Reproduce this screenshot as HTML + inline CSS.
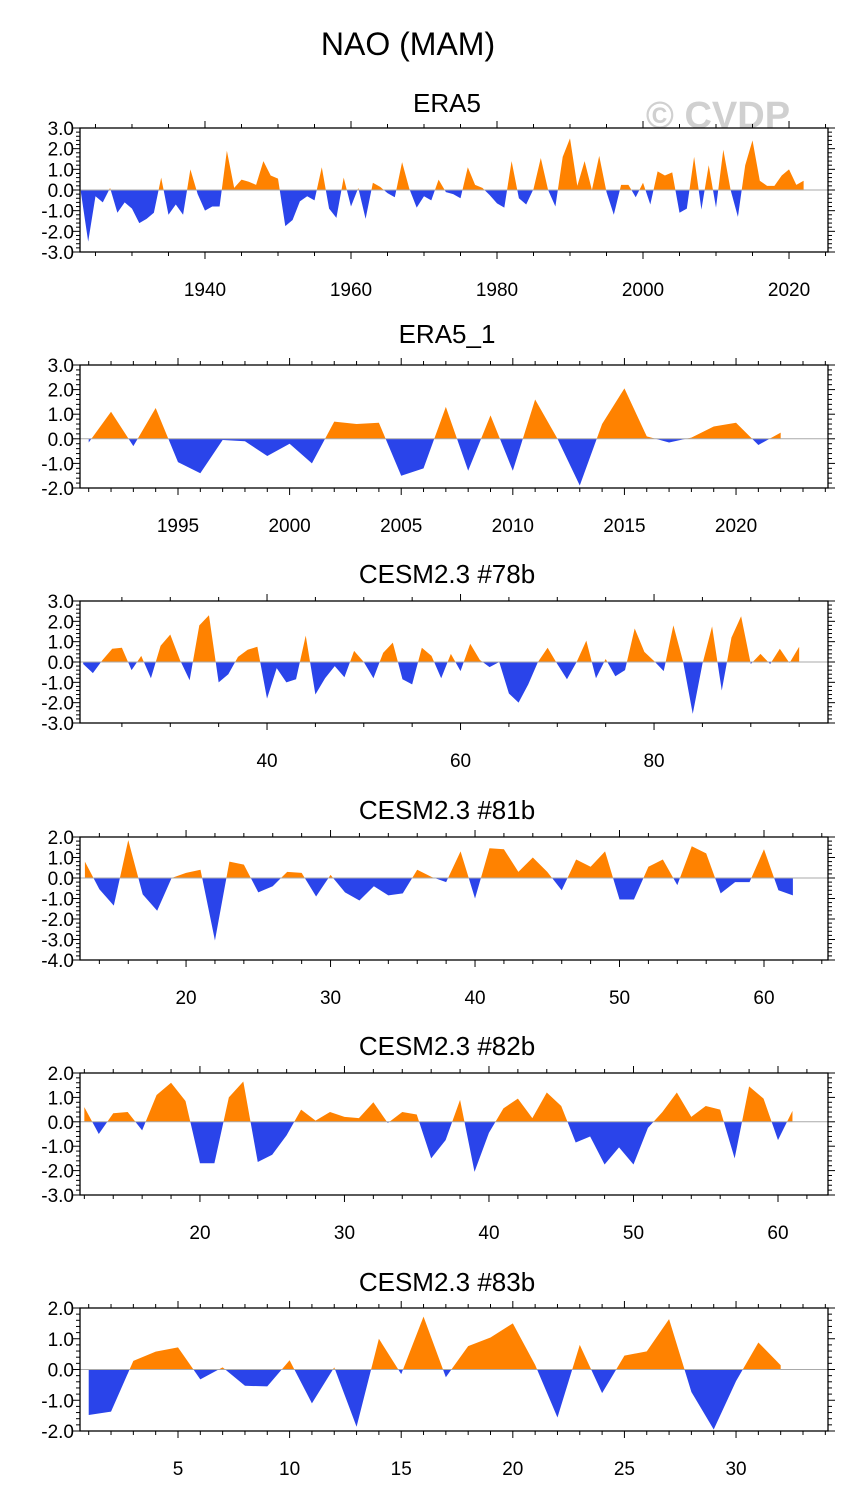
<!DOCTYPE html>
<html><head><meta charset="utf-8"><style>
body{margin:0;background:#fff;}
svg{display:block;font-family:"Liberation Sans",sans-serif;}
</style></head><body>
<svg id="chart" width="845" height="1506" viewBox="0 0 845 1506" xmlns="http://www.w3.org/2000/svg">
<text x="408" y="55" font-size="32" text-anchor="middle">NAO (MAM)</text>
<text x="718" y="128" font-size="38" font-weight="bold" fill="#d0d0d0" text-anchor="middle">© CVDP</text>
</svg>
<script>
const era5Start = 1923;
const era5Values = [-0.1,-2.5,-0.3,-0.6,0.1,-1.1,-0.6,-0.9,-1.6,-1.4,-1.1,0.6,-1.2,-0.7,-1.2,1.0,-0.2,-1.0,-0.8,-0.8,1.9,0.1,0.5,0.4,0.25,1.4,0.7,0.55,-1.75,-1.45,-0.55,-0.3,-0.5,1.1,-0.9,-1.35,0.6,-0.8,0.1,-1.4,0.35,0.15,-0.15,-0.35,1.35,0.05,-0.85,-0.3,-0.5,0.5,-0.1,-0.2,-0.4,1.1,0.25,0.1,-0.25,-0.65,-0.85,1.4,-0.4,-0.7,0.05,1.55,0.0,-0.8,1.6,2.5,0.2,1.4,0.0,1.65,-0.1,-1.2,0.25,0.25,-0.35,0.35,-0.7,0.9,0.7,0.85,-1.1,-0.9,1.6,-0.95,1.2,-0.85,1.95,0.0,-1.3,1.2,2.4,0.45,0.2,0.2,0.7,1.0,0.25,0.45];
const era51Start = 1991;
const era51Values = [-0.15,1.1,-0.3,1.25,-0.95,-1.4,-0.05,-0.1,-0.7,-0.2,-1.0,0.7,0.6,0.65,-1.5,-1.2,1.3,-1.3,0.95,-1.3,1.6,0.0,-1.9,0.6,2.05,0.1,-0.15,0.05,0.5,0.65,-0.25,0.25];
const c78Start = 21;
const c78Values = [-0.1,-0.55,0.1,0.65,0.7,-0.4,0.3,-0.8,0.8,1.35,0.1,-0.9,1.8,2.3,-1.0,-0.6,0.25,0.6,0.75,-1.8,-0.3,-1.0,-0.85,1.3,-1.6,-0.8,-0.2,-0.75,0.55,0.0,-0.8,0.45,0.95,-0.85,-1.1,0.7,0.3,-0.8,0.4,-0.45,0.9,0.1,-0.25,0.0,-1.55,-2.0,-1.1,0.0,0.7,-0.1,-0.85,0.0,1.05,-0.8,0.15,-0.7,-0.4,1.65,0.5,0.05,-0.45,1.8,0.02,-2.55,-0.1,1.75,-1.4,1.2,2.25,-0.1,0.4,-0.1,0.65,-0.05,0.75];
const c81Start = 13;
const c81Values = [0.8,-0.55,-1.35,1.85,-0.8,-1.6,0.0,0.25,0.4,-3.05,0.8,0.65,-0.7,-0.4,0.3,0.25,-0.9,0.15,-0.7,-1.1,-0.4,-0.85,-0.75,0.4,0.05,-0.2,1.3,-1.0,1.45,1.4,0.3,1.0,0.3,-0.6,0.9,0.55,1.3,-1.05,-1.05,0.55,0.9,-0.35,1.55,1.2,-0.75,-0.2,-0.2,1.4,-0.6,-0.85];
const c82Start = 12;
const c82Values = [0.6,-0.5,0.35,0.4,-0.35,1.1,1.6,0.85,-1.7,-1.7,1.0,1.65,-1.65,-1.35,-0.55,0.5,0.05,0.4,0.2,0.15,0.8,-0.05,0.4,0.3,-1.5,-0.75,0.9,-2.05,-0.45,0.55,0.95,0.15,1.2,0.65,-0.85,-0.6,-1.75,-1.05,-1.75,-0.25,0.4,1.2,0.2,0.65,0.5,-1.5,1.45,0.95,-0.75,0.45];
const c83Start = 1;
const c83Values = [-1.48,-1.37,0.28,0.58,0.72,-0.32,0.07,-0.53,-0.55,0.3,-1.1,0.07,-1.86,1.0,-0.15,1.72,-0.25,0.76,1.04,1.5,0.15,-1.56,0.8,-0.77,0.45,0.59,1.64,-0.73,-1.95,-0.38,0.88,0.14];
const panelTitles = ["ERA5","ERA5_1","CESM2.3 #78b","CESM2.3 #81b","CESM2.3 #82b","CESM2.3 #83b"];
const yTickLabels1 = ["3.0","2.0","1.0","0.0","-1.0","-2.0","-3.0"];
const yTickLabels2 = ["3.0","2.0","1.0","0.0","-1.0","-2.0"];
const yTickLabels4 = ["2.0","1.0","0.0","-1.0","-2.0","-3.0","-4.0"];
const yTickLabels5 = ["2.0","1.0","0.0","-1.0","-2.0","-3.0"];
const yTickLabels6 = ["2.0","1.0","0.0","-1.0","-2.0"];
const xTicks1 = [1940,1960,1980,2000,2020];
const xTicks2 = [1995,2000,2005,2010,2015,2020];
const xTicks3 = [40,60,80];
const xTicks4 = [20,30,40,50,60];
const xTicks5 = [20,30,40,50,60];
const xTicks6 = [5,10,15,20,25,30];

const NS="http://www.w3.org/2000/svg";
const svg=document.getElementById('chart');
function mk(tag,attrs,parent){const e=document.createElementNS(NS,tag);for(const k in attrs)e.setAttribute(k,attrs[k]);(parent||svg).appendChild(e);return e;}

const panels=[
 {start:era5Start,vals:era5Values,x0:80,x1:828,y0:128,y1:252,xmin:1922.88,xmax:2025.34,ymin:-3,ymax:3,yl:yTickLabels1,xt:xTicks1,minor:5,titleY:112},
 {start:era51Start,vals:era51Values,x0:80,x1:828,y0:365,y1:488,xmin:1990.61,xmax:2024.12,ymin:-2,ymax:3,yl:yTickLabels2,xt:xTicks2,minor:1,titleY:343},
 {start:c78Start,vals:c78Values,x0:80,x1:828,y0:601,y1:723,xmin:20.67,xmax:97.98,ymin:-3,ymax:3,yl:yTickLabels1,xt:xTicks3,minor:5,titleY:583},
 {start:c81Start,vals:c81Values,x0:80,x1:828,y0:837,y1:960,xmin:12.66,xmax:64.43,ymin:-4,ymax:2,yl:yTickLabels4,xt:xTicks4,minor:2,titleY:819},
 {start:c82Start,vals:c82Values,x0:80,x1:828,y0:1073,y1:1195,xmin:11.7,xmax:63.46,ymin:-3,ymax:2,yl:yTickLabels5,xt:xTicks5,minor:2,titleY:1055},
 {start:c83Start,vals:c83Values,x0:80,x1:828,y0:1308,y1:1431,xmin:0.61,xmax:34.12,ymin:-2,ymax:2,yl:yTickLabels6,xt:xTicks6,minor:1,titleY:1291}
];

panels.forEach((p,i)=>{
 const g=mk('g',{});
 
 
 const xs=v=>p.x0+(v-p.xmin)/(p.xmax-p.xmin)*(p.x1-p.x0);
 const ys=v=>p.y1-(v-p.ymin)/(p.ymax-p.ymin)*(p.y1-p.y0);
 const z=ys(0);
 const t=mk('text',{x:447,y:p.titleY,'font-size':26,'text-anchor':'middle'},g);
 t.textContent=panelTitles[i];
 
 
 const cidA='ca'+i,cidB='cb'+i;
 const ca=mk('clipPath',{id:cidA},g);mk('rect',{x:p.x0,y:p.y0,width:p.x1-p.x0,height:z-p.y0},ca);
 const cb=mk('clipPath',{id:cidB},g);mk('rect',{x:p.x0,y:z,width:p.x1-p.x0,height:p.y1-z},cb);
 let pts=[];
 p.vals.forEach((v,k)=>pts.push(xs(p.start+k).toFixed(2)+','+ys(v).toFixed(2)));
 const xa=xs(p.start),xb=xs(p.start+p.vals.length-1);
 const poly=xa.toFixed(2)+','+z+' '+pts.join(' ')+' '+xb.toFixed(2)+','+z;
 const pa=mk('polygon',{points:poly,fill:'#ff8200','clip-path':'url(#'+cidA+')'},g);
 
 
 const pb=mk('polygon',{points:poly,fill:'#2a44ea','clip-path':'url(#'+cidB+')'},g);
 
 
 const zl=mk('line',{x1:p.x0,x2:p.x1,y1:z,y2:z,stroke:'#aaa','stroke-width':1},g);
 
 
 const box=mk('rect',{x:p.x0,y:p.y0,width:p.x1-p.x0,height:p.y1-p.y0,fill:'none',stroke:'#000','stroke-width':1.3},g);
 
 
 for(let v=p.ymin;v<=p.ymax+1e-6;v+=0.2){
  const y=ys(v);const major=Math.abs(v-Math.round(v))<1e-6;const L=major?7:4;
  mk('line',{x1:p.x0-L,x2:p.x0,y1:y,y2:y,stroke:'#000','stroke-width':1},g);
  mk('line',{x1:p.x1,x2:p.x1+L,y1:y,y2:y,stroke:'#000','stroke-width':1},g);
 }
 p.yl.forEach(s=>{
  const yt=mk('text',{x:p.x0-6,y:ys(parseFloat(s))+7,'font-size':19,'text-anchor':'end'},g);
  yt.textContent=s;
  
  
 });
 const first=Math.ceil(p.xmin/p.minor)*p.minor;
 const step=p.xt[1]-p.xt[0];
 for(let v=first;v<=p.xmax;v+=p.minor){
  const x=xs(v);const major=(((v-p.xt[0])%step)+step)%step===0;const L=major?7:4;
  mk('line',{x1:x,x2:x,y1:p.y1,y2:p.y1+L,stroke:'#000','stroke-width':1},g);
  mk('line',{x1:x,x2:x,y1:p.y0-L,y2:p.y0,stroke:'#000','stroke-width':1},g);
 }
 p.xt.forEach(v=>{
  const xt=mk('text',{x:xs(v),y:p.y1+44,'font-size':19,'text-anchor':'middle'},g);
  xt.textContent=String(v);
  
  
 });
});
</script>
</body></html>
